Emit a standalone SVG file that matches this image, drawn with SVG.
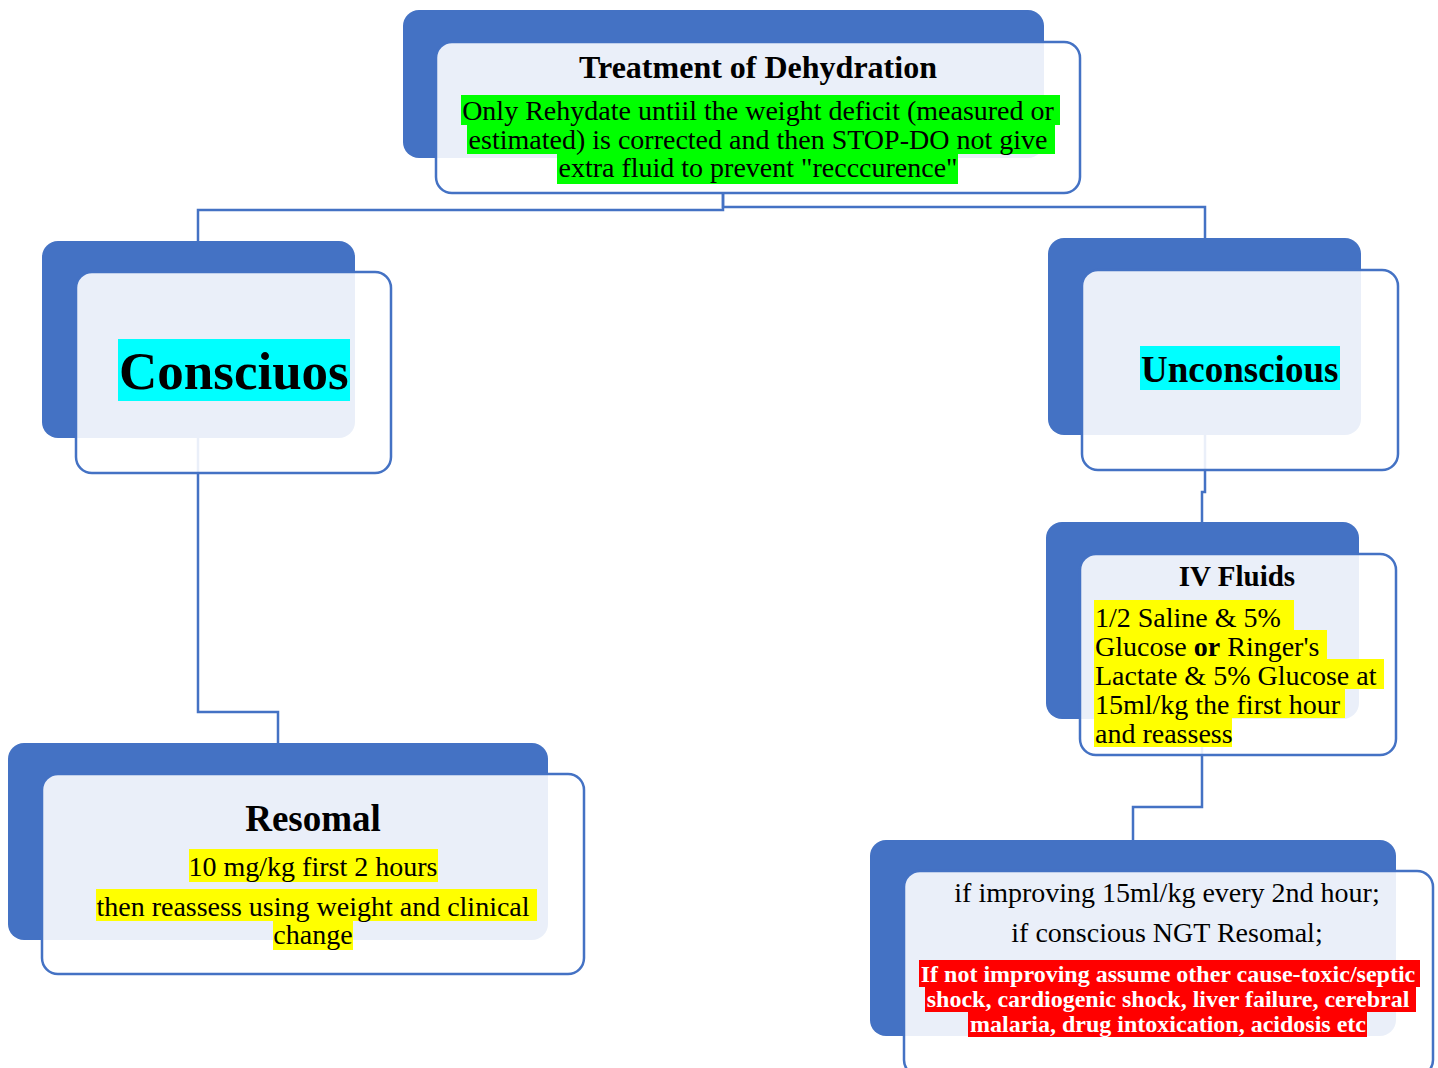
<svg xmlns="http://www.w3.org/2000/svg" width="1438" height="1068" viewBox="0 0 1438 1068">
<style>
.back{fill:#4472C4}
.front{fill:#FFFFFF;fill-opacity:0.89;stroke:#4472C4;stroke-width:2.5}
.conn{fill:none;stroke:#4472C4;stroke-width:2.5}
.t{font-family:"Liberation Serif","Times New Roman",serif;fill:#000}
.b{font-weight:bold}
.c{text-anchor:middle}
.body{font-size:28px}
.green{fill:#00FF00}
.yel{fill:#FFFF00}
.cyan{fill:#00FFFF}
.red{fill:#FF0000}
.wt{font-family:"Liberation Serif","Times New Roman",serif;fill:#FFFFFF;font-weight:bold;font-size:24px;text-anchor:middle}
</style>
<rect width="1438" height="1068" fill="#FFFFFF"/>
<g id="connectors">
<path class="conn" d="M723 193 V210 H198 V241"/>
<path class="conn" d="M723 193 V207 H1205 V238"/>
<path class="conn" d="M198 438 V712 H278 V743"/>
<path class="conn" d="M1205 435 V492 H1202 V522"/>
<path class="conn" d="M1202 719 V807 H1133 V840"/>
</g>
<g id="node-treatment">
<rect class="back" x="403" y="10" width="641" height="148" rx="16"/>
<rect class="front" x="436" y="42" width="644" height="151" rx="16"/>
<text class="t b c" x="758" y="78" font-size="32">Treatment of Dehydration</text>
<rect class="green" x="461" y="95" width="599" height="30"/>
<rect class="green" x="467" y="125" width="588" height="29"/>
<rect class="green" x="557" y="154" width="401" height="30"/>
<text class="t body c" x="758" y="120">Only Rehydate untiil the weight deficit (measured or</text>
<text class="t body c" x="758" y="149">estimated) is corrected and then STOP-DO not give</text>
<text class="t body c" x="758" y="177">extra fluid to prevent "recccurence"</text>
</g>
<g id="node-conscious">
<rect class="back" x="42" y="241" width="313" height="197" rx="16"/>
<rect class="front" x="76" y="272" width="315" height="201" rx="16"/>
<rect class="cyan" x="118" y="339" width="232" height="62"/>
<text class="t b" x="119" y="389" font-size="53">Consciuos</text>
</g>
<g id="node-unconscious">
<rect class="back" x="1048" y="238" width="313" height="197" rx="16"/>
<rect class="front" x="1082" y="270" width="316" height="200" rx="16"/>
<rect class="cyan" x="1140" y="346" width="200" height="44"/>
<text class="t b" x="1141" y="382" font-size="37">Unconscious</text>
</g>
<g id="node-resomal">
<rect class="back" x="8" y="743" width="540" height="197" rx="16"/>
<rect class="front" x="42" y="774" width="542" height="200" rx="16"/>
<text class="t b c" x="313" y="831" font-size="37">Resomal</text>
<rect class="yel" x="189" y="849" width="249" height="33"/>
<rect class="yel" x="96" y="889" width="441" height="32"/>
<rect class="yel" x="273" y="921" width="80" height="29"/>
<text class="t body c" x="313" y="876">10 mg/kg first 2 hours</text>
<text class="t body c" x="313" y="916">then reassess using weight and clinical</text>
<text class="t body c" x="313" y="944">change</text>
</g>
<g id="node-ivfluids">
<rect class="back" x="1046" y="522" width="313" height="197" rx="16"/>
<rect class="front" x="1080" y="554" width="316" height="201" rx="16"/>
<text class="t b c" x="1237" y="586" font-size="29">IV Fluids</text>
<rect class="yel" x="1094" y="600" width="200" height="31"/>
<rect class="yel" x="1094" y="630" width="233" height="30"/>
<rect class="yel" x="1094" y="659" width="290" height="30"/>
<rect class="yel" x="1094" y="688" width="251" height="30"/>
<rect class="yel" x="1094" y="717" width="138" height="30"/>
<text class="t body" x="1095" y="627">1/2 Saline &amp; 5%</text>
<text class="t body" x="1095" y="656">Glucose <tspan font-weight="bold">or</tspan> Ringer's</text>
<text class="t body" x="1095" y="685">Lactate &amp; 5% Glucose at</text>
<text class="t body" x="1095" y="714">15ml/kg the first hour</text>
<text class="t body" x="1095" y="743">and reassess</text>
</g>
<g id="node-followup">
<rect class="back" x="870" y="840" width="526" height="196" rx="16"/>
<rect class="front" x="904" y="871" width="529" height="205" rx="16"/>
<text class="t body c" x="1167" y="902">if improving 15ml/kg every 2nd hour;</text>
<text class="t body c" x="1167" y="942">if conscious NGT Resomal;</text>
<rect class="red" x="919" y="960" width="501" height="27"/>
<rect class="red" x="925" y="987" width="491" height="25"/>
<rect class="red" x="968" y="1012" width="399" height="25"/>
<text class="wt" x="1168" y="982">If not improving assume other cause-toxic/septic</text>
<text class="wt" x="1168" y="1007">shock, cardiogenic shock, liver failure, cerebral</text>
<text class="wt" x="1168" y="1032">malaria, drug intoxication, acidosis etc</text>
</g>
</svg>
